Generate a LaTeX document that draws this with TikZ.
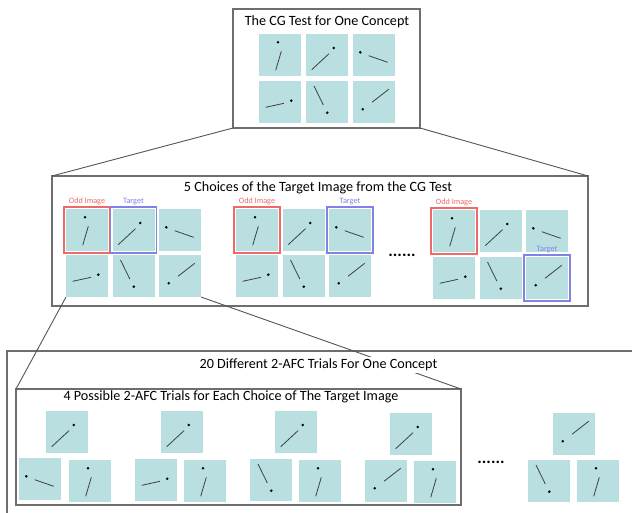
\documentclass[tikz,border=0pt]{standalone}
\usepackage{fontspec}
\setmainfont{Carlito}
\usetikzlibrary{fit}
\definecolor{tilecol}{RGB}{186,223,225}
\definecolor{oddcol}{RGB}{240,105,105}
\definecolor{tgtcol}{RGB}{130,130,228}
\definecolor{boxcol}{RGB}{110,110,110}
\definecolor{linecol}{RGB}{85,85,85}
\tikzset{
  tile/.style={fill=tilecol, minimum width=42bp, minimum height=42bp, inner sep=0pt, outer sep=0pt, anchor=north west},
  seg/.style={draw=black!75, line width=0.8bp},
  panel/.style={draw=boxcol, line width=1.3bp, inner sep=0pt, outer sep=0pt, anchor=north west},
  conn/.style={draw=linecol, line width=0.9bp},
  ttl/.style={font=\fontsize{14.2}{16}\selectfont, inner sep=1bp},
  oddbox/.style={draw=oddcol, line width=1.2bp, inner sep=2bp},
  tgtbox/.style={draw=tgtcol, line width=1.2bp, inner sep=2bp},
  oddlab/.style={text=oddcol, font=\fontsize{8.2}{9}\selectfont, inner sep=0.8bp},
  tgtlab/.style={text=tgtcol, font=\fontsize{8.2}{9}\selectfont, inner sep=0.8bp},
  ddots/.style={font=\fontsize{17}{18}\selectfont\bfseries, inner sep=0pt},
  tileA/.pic={\node[tile] (-box) at (0,0) {};
    \fill (19,8.3) circle[radius=1.4bp]; \draw[seg] (22.3,17.3) -- (16.7,36.3);},
  tileB/.pic={\node[tile] (-box) at (0,0) {};
    \fill (27.7,14) circle[radius=1.4bp]; \draw[seg] (23,19.7) -- (5.7,35.7);},
  tileC/.pic={\node[tile] (-box) at (0,0) {};
    \fill (7.3,18.3) circle[radius=1.4bp]; \draw[seg] (15.7,21.7) -- (34.7,28.3);},
  tileD/.pic={\node[tile] (-box) at (0,0) {};
    \fill (32.3,19.7) circle[radius=1.4bp]; \draw[seg] (6.7,26.3) -- (25,22.3);},
  tileE/.pic={\node[tile] (-box) at (0,0) {};
    \fill (21.3,31.7) circle[radius=1.4bp]; \draw[seg] (8,5) -- (17.3,24);},
  tileF/.pic={\node[tile] (-box) at (0,0) {};
    \fill (9.7,28.3) circle[radius=1.4bp]; \draw[seg] (19,21.3) -- (35.7,8.3);},
}
\begin{document}
\begin{tikzpicture}[x=1bp,y=-1bp]
\clip (0,0) rectangle (632,513);
\fill[white] (0,0) rectangle (632,513);

% panels
\node[panel, minimum width=187bp, minimum height=119bp] (top) at (233,9) {};
\node[panel, minimum width=536bp, minimum height=130bp] (mid) at (52,176) {};
\node[panel, minimum width=640bp, minimum height=175bp] (outer) at (7,351) {};
\node[panel, minimum width=445bp, minimum height=116bp] (inner) at (16,389) {};

% top panel
\node[ttl] (toptitle) at (327,22) {The CG Test for One Concept};
\pic (ta) at (259,34) {tileA};
\pic (tb) at (306,34) {tileB};
\pic (tc) at (353,34) {tileC};
\pic (td) at (259,81) {tileD};
\pic (te) at (306,81) {tileE};
\pic (tf) at (353,81) {tileF};

% middle panel
\node[ttl] (midtitle) at (318,188) {5 Choices of the Target Image from the CG Test};
\pic (ga) at (66,209) {tileA};
\pic (gb) at (112.5,209) {tileB};
\pic (gc) at (159,209) {tileC};
\pic (gd) at (66,255) {tileD};
\pic (ge) at (112.5,255) {tileE};
\pic (gf) at (159,255) {tileF};

\pic (ha) at (236,209) {tileA};
\pic (hb) at (282.5,209) {tileB};
\pic (hc) at (329,209) {tileC};
\pic (hd) at (236,255) {tileD};
\pic (he) at (282.5,255) {tileE};
\pic (hf) at (329,255) {tileF};

\pic (ka) at (433,210) {tileA};
\pic (kb) at (479.5,210) {tileB};
\pic (kc) at (526,210) {tileC};
\pic (kd) at (433,257) {tileD};
\pic (ke) at (479.5,257) {tileE};
\pic (kf) at (526,257) {tileF};

\node[oddbox, fit=(ga-box), label={[oddlab]above:Odd Image}] (odd1) {};
\node[tgtbox, fit=(gb-box), label={[tgtlab]above:Target}] (tgt1) {};
\node[oddbox, fit=(ha-box), label={[oddlab]above:Odd Image}] (odd2) {};
\node[tgtbox, fit=(hc-box), label={[tgtlab]above:Target}] (tgt2) {};
\node[oddbox, fit=(ka-box), label={[oddlab]above:Odd Image}] (odd3) {};
\node[tgtbox, fit=(kf-box), label={[tgtlab]above:Target}] (tgt3) {};

\node[ddots] (middots) at (402,255) {......};

% lower panels
\pic (l1t) at (46,411) {tileB};
\pic (l1l) at (19,458) {tileC};
\pic (l1r) at (69,460) {tileA};
\pic (l2t) at (161,411) {tileB};
\pic (l2l) at (135,459) {tileD};
\pic (l2r) at (184,460) {tileA};
\pic (l3t) at (275,411) {tileB};
\pic (l3l) at (250,459) {tileE};
\pic (l3r) at (299,460) {tileA};
\pic (l4t) at (390,413) {tileB};
\pic (l4l) at (365,460) {tileF};
\pic (l4r) at (414,461) {tileA};
\pic (l5t) at (553,413) {tileF};
\pic (l5l) at (528,460) {tileE};
\pic (l5r) at (577,460) {tileA};

\node[ddots] (lowdots) at (491,462) {......};

% connectors
\draw[conn] (top.south west) -- (mid.north west);
\draw[conn] (top.south east) -- (mid.north east);
\draw[conn] (gd-box.south west) -- (inner.north west);
\draw[conn] (gf-box.south east) -- (inner.north east);

% titles over connectors
\node[ttl, fill=white, inner sep=2bp] (outertitle) at (318.5,365) {20 Different 2-AFC Trials For One Concept};
\node[ttl] (innertitle) at (231,397) {4 Possible 2-AFC Trials for Each Choice of The Target Image};
\end{tikzpicture}
\end{document}
